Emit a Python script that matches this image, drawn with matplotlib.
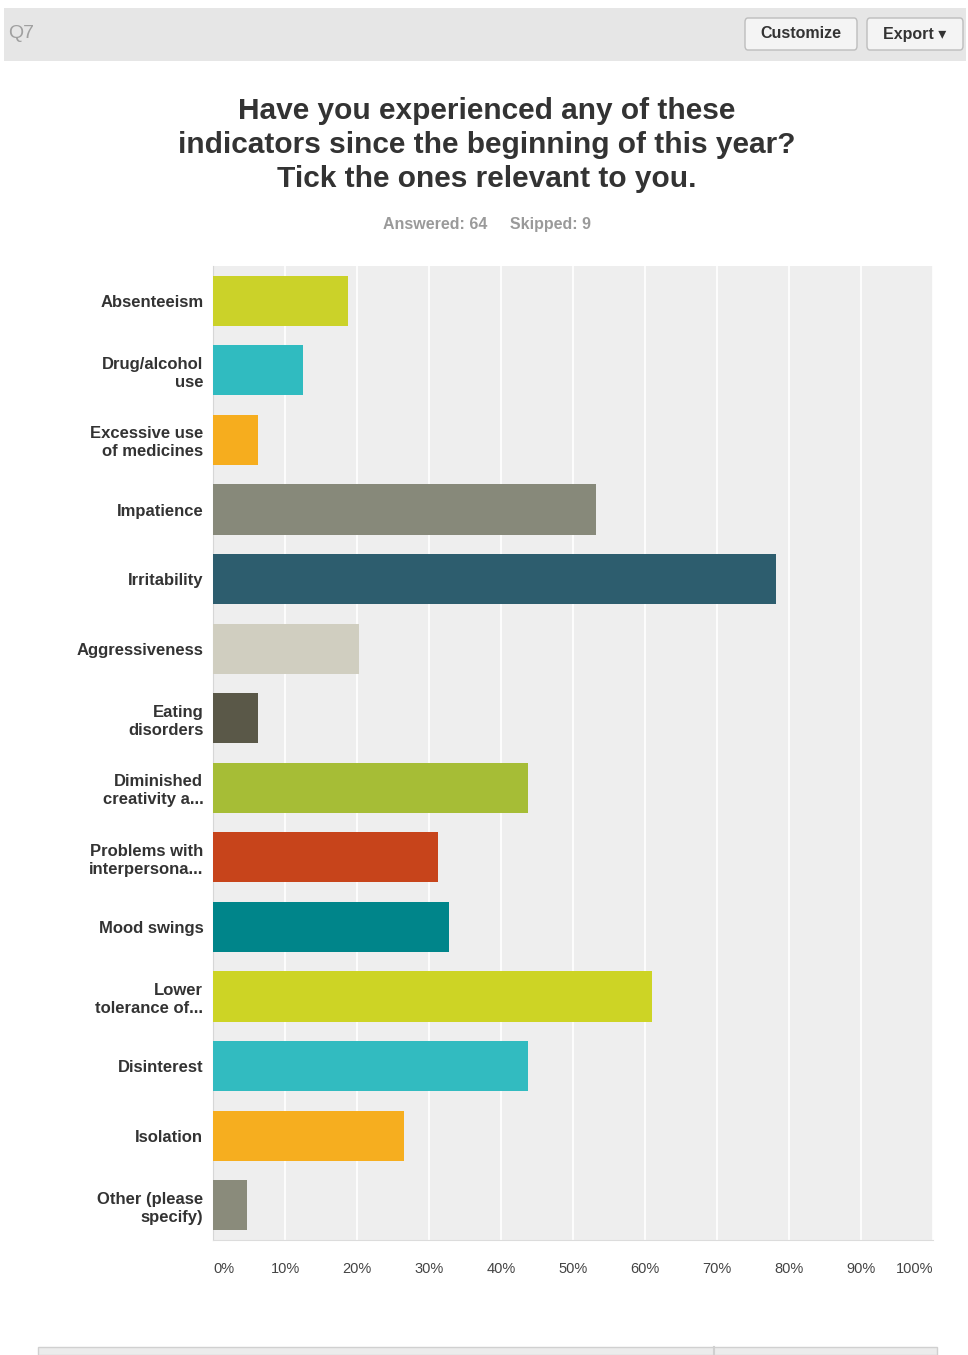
import matplotlib.pyplot as plt
from matplotlib.patches import Rectangle, FancyBboxPatch

plt.rcParams['font.family'] = ['Liberation Sans', 'DejaVu Sans']

# survey results, share of respondents (answered: 64)
categories = [
    "Absenteeism",
    "Drug/alcohol\nuse",
    "Excessive use\nof medicines",
    "Impatience",
    "Irritability",
    "Aggressiveness",
    "Eating\ndisorders",
    "Diminished\ncreativity a...",
    "Problems with\ninterpersona...",
    "Mood swings",
    "Lower\ntolerance of...",
    "Disinterest",
    "Isolation",
    "Other (please\nspecify)",
]
percent = [18.75, 12.50, 6.25, 53.13, 78.13, 20.31, 6.25,
           43.75, 31.25, 32.81, 60.94, 43.75, 26.56, 4.69]
colors = ["#cbd229", "#30bbc0", "#f6ad1e", "#87897a", "#2d5d6e", "#d0cec0",
          "#5a5848", "#a6bd36", "#c7441b", "#00858a", "#cdd425", "#32bbc0",
          "#f6ae1f", "#8a8b7b"]
tick_vals = [0, 10, 20, 30, 40, 50, 60, 70, 80, 90, 100]
tick_labels = [f"{v}%" for v in tick_vals]

W, H = 968, 1355
fig = plt.figure(figsize=(W / 100, H / 100), dpi=100)
fig.patch.set_facecolor("white")


def fx(px):
    return px / W


def fy(py):
    return 1 - py / H


# header strip with question number and buttons
fig.patches.append(Rectangle((fx(4), fy(61)), fx(962), 53 / H,
                             transform=fig.transFigure, facecolor="#e6e6e6",
                             edgecolor="none"))
fig.text(fx(8), fy(33), "Q7", fontsize=14, color="#a0a0a0", va="center")
for x0, w, label in [(745, 112, "Customize"), (867, 96, "Export \u25be")]:
    fig.patches.append(FancyBboxPatch((fx(x0), fy(50)), fx(w), 32 / H,
                                      boxstyle="round,pad=0,rounding_size=0.003",
                                      transform=fig.transFigure,
                                      facecolor="#f4f4f4", edgecolor="#bdbdbd",
                                      linewidth=1))
    fig.text(fx(x0 + w / 2), fy(34), label, fontsize=11.5, color="#333333",
             ha="center", va="center", fontweight="bold")

# title block
title_lines = ["Have you experienced any of these",
               "indicators since the beginning of this year?",
               "Tick the ones relevant to you."]
for i, line in enumerate(title_lines):
    fig.text(fx(487), fy(111 + 34 * i), line, fontsize=21.5, color="#333333",
             ha="center", va="center", fontweight="bold")
fig.text(fx(487), fy(225), "Answered: 64     Skipped: 9", fontsize=11.5,
         color="#9a9a9a", ha="center", va="center", fontweight="bold")

# bar chart
ax = fig.add_axes([fx(213), fy(1240), fx(933) - fx(213), (1240 - 266) / H])
ax.set_facecolor("#eeeeee")
ypos = list(range(len(categories)))
ax.barh(ypos, percent, height=0.72, color=colors, zorder=3)
ax.set_xlim(0, 100)
ax.set_ylim(len(categories) - 0.5, -0.5)
ax.set_xticks(tick_vals)
ax.grid(axis="x", color="white", linewidth=1.2, zorder=1)
ax.set_axisbelow(True)
for s in ax.spines.values():
    s.set_visible(False)
ax.spines["left"].set_visible(True)
ax.spines["left"].set_color("#d6d6d6")
ax.spines["bottom"].set_visible(True)
ax.spines["bottom"].set_color("#dcdcdc")
ax.tick_params(length=0)
ax.set_yticks(ypos)
ax.set_yticklabels(categories, fontsize=12, color="#333333",
                   fontweight="bold", linespacing=1.25)
ax.tick_params(axis="y", pad=7)
ax.set_xticklabels(tick_labels, fontsize=10.5, color="#444444")
ax.tick_params(axis="x", pad=16)
xt = ax.get_xticklabels()
xt[0].set_horizontalalignment("left")
xt[-1].set_horizontalalignment("right")

# start of the next panel at the bottom edge
fig.patches.append(Rectangle((fx(38), 0), fx(899), 8 / H,
                             transform=fig.transFigure, facecolor="#ececec",
                             edgecolor="#d0d0d0", linewidth=1))
fig.lines.append(plt.Line2D([fx(714), fx(714)], [0, 8 / H],
                            transform=fig.transFigure, color="#d0d0d0"))

fig.savefig("out.png", dpi=100)
